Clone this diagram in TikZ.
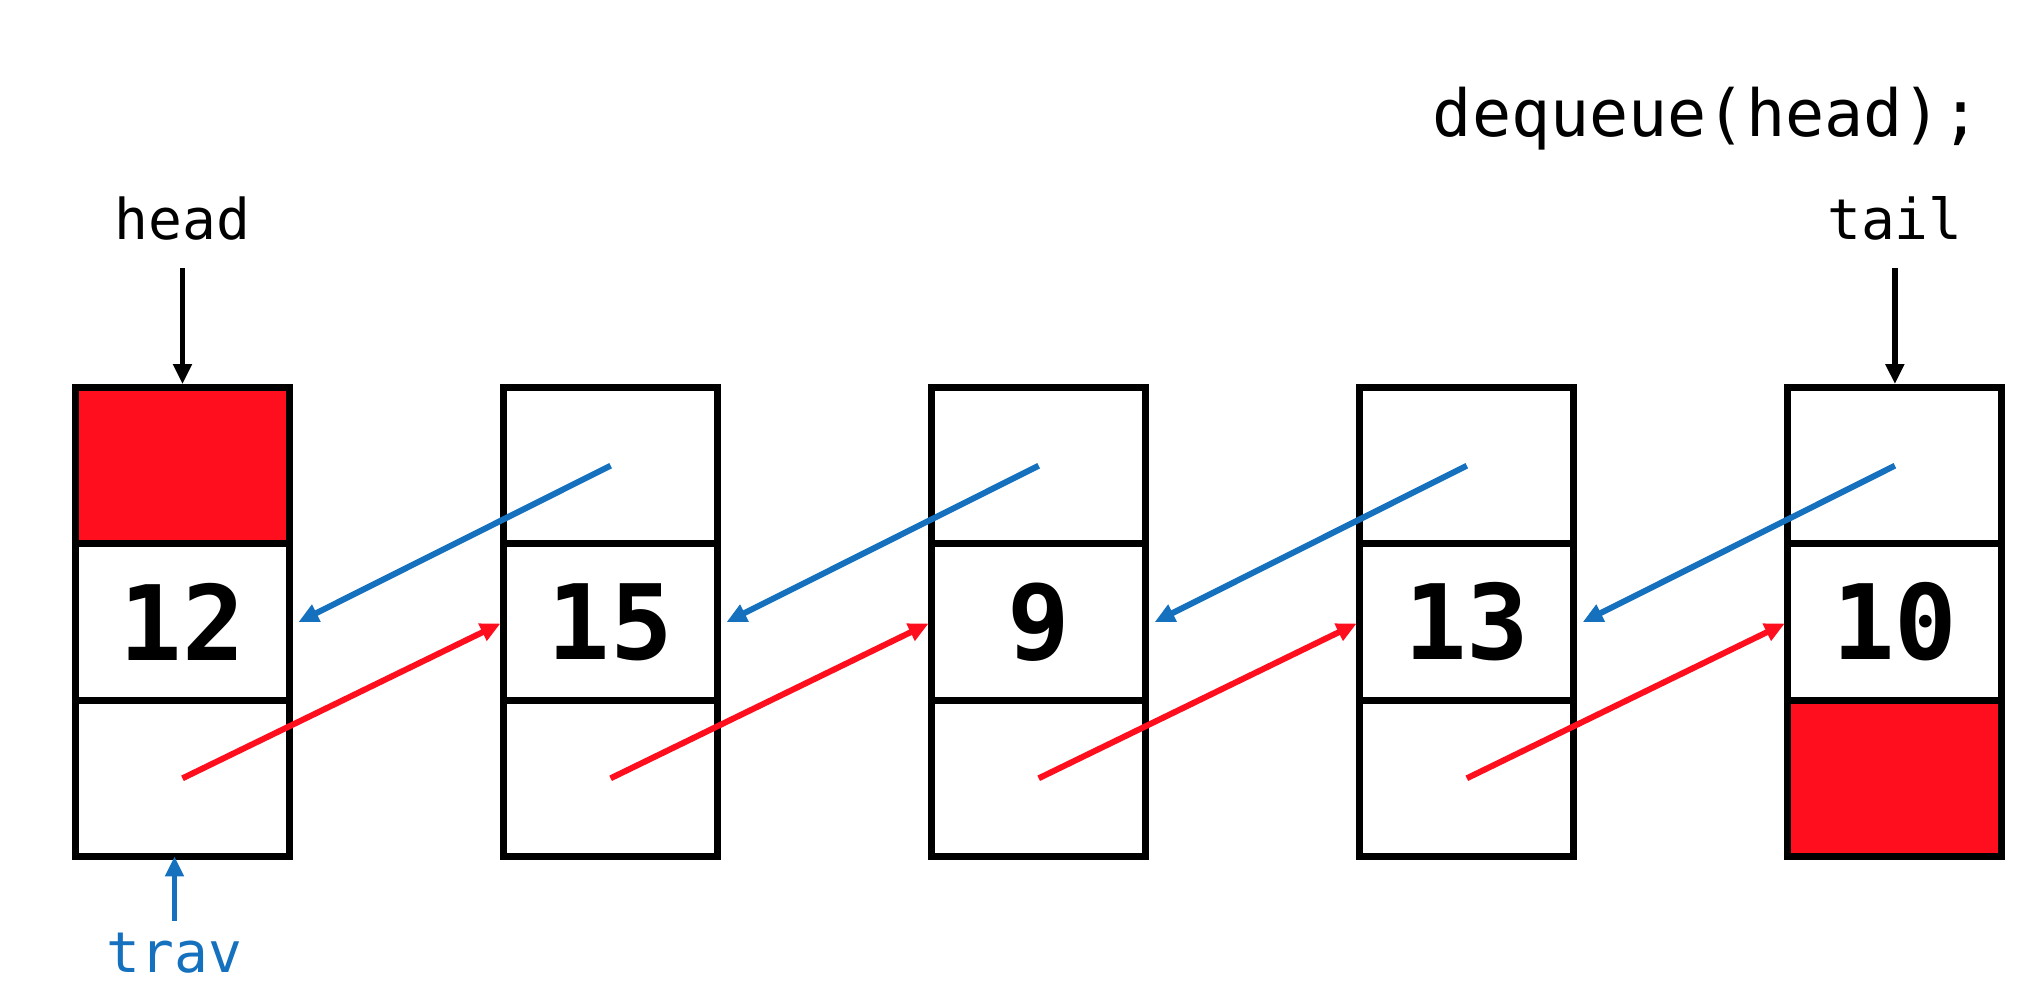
\documentclass[tikz,border=0pt]{standalone}
\usepackage{fontspec}
\setmonofont{DejaVu Sans Mono}
\usepackage{tikz}
\usetikzlibrary{arrows.meta, positioning}

\definecolor{ptrred}{HTML}{FF0F1E}
\definecolor{ptrblue}{HTML}{1570BE}

\begin{document}
\begin{tikzpicture}[
            > = {Triangle[length=2mm, width=1.8mm]}, % arrow head style
            node distance = 4.281cm, % distance between list nodes
            font = \ttfamily
        ]

        \tikzstyle{cell}=[
            draw = black,
            line width = 2pt,
            minimum width = 2.14cm,
            minimum height = 1.563cm,
            inner sep = 0pt,
            outer sep = 0pt,
            font = \ttfamily\bfseries\fontsize{29.6}{32}\selectfont
        ]
        \tikzstyle{nullcell}=[cell, fill = ptrred]
        \tikzstyle{ptrlabel}=[inner sep = 0pt, font = \ttfamily\fontsize{16}{19}\selectfont]
        \tikzstyle{nextptr}=[->, ptrred, line width = 1.7pt, shorten > = 0.035cm]
        \tikzstyle{prevptr}=[->, ptrblue, line width = 1.7pt]

        \useasboundingbox (0,0) rectangle (20.34,9.84);

        % data cells
        \node[cell] (v1) at (1.825,3.62) {12};
        \node[cell] (v2) [right of=v1] {15};
        \node[cell] (v3) [right of=v2] {9};
        \node[cell] (v4) [right of=v3] {13};
        \node[cell] (v5) [right of=v4] {10};

        % prev cells
        \node[nullcell] (t1) [above=0pt of v1] {};
        \node[cell] (t2) [above=0pt of v2] {};
        \node[cell] (t3) [above=0pt of v3] {};
        \node[cell] (t4) [above=0pt of v4] {};
        \node[cell] (t5) [above=0pt of v5] {};

        % next cells
        \node[cell] (b1) [below=0pt of v1] {};
        \node[cell] (b2) [below=0pt of v2] {};
        \node[cell] (b3) [below=0pt of v3] {};
        \node[cell] (b4) [below=0pt of v4] {};
        \node[nullcell] (b5) [below=0pt of v5] {};

        % labels
        \node[font = \ttfamily\fontsize{18.5}{22}\selectfont, anchor = base] (call) at (17.07,8.47) {dequeue(head);};
        \node[ptrlabel] (headlbl) [above=1.47cm of t1] {head};
        \node[ptrlabel] (taillbl) [above=1.47cm of t5] {tail};
        \node[ptrlabel, text = ptrblue] (travlbl) [below=0.755cm of b1, xshift=-0.08cm] {trav};

        \draw[->, line width = 1.7pt, shorten < = 0.275cm, shorten > = 0.035cm] (headlbl.south) -- (headlbl.south |- t1.north);
        \draw[->, line width = 1.7pt, shorten < = 0.275cm, shorten > = 0.035cm] (taillbl.south) -- (taillbl.south |- t5.north);
        \draw[->, ptrblue, line width = 1.7pt, shorten < = 0.11cm] (travlbl.north) -- (travlbl.north |- b1.south);

        % prev pointers
        \draw[prevptr] (t2.center) -- ([xshift=0.09cm]v1.east);
        \draw[prevptr] (t3.center) -- ([xshift=0.09cm]v2.east);
        \draw[prevptr] (t4.center) -- ([xshift=0.09cm]v3.east);
        \draw[prevptr] (t5.center) -- ([xshift=0.09cm]v4.east);

        % next pointers
        \draw[nextptr] (b1.center) -- (v2.west);
        \draw[nextptr] (b2.center) -- (v3.west);
        \draw[nextptr] (b3.center) -- (v4.west);
        \draw[nextptr] (b4.center) -- (v5.west);

\end{tikzpicture}
\end{document}
